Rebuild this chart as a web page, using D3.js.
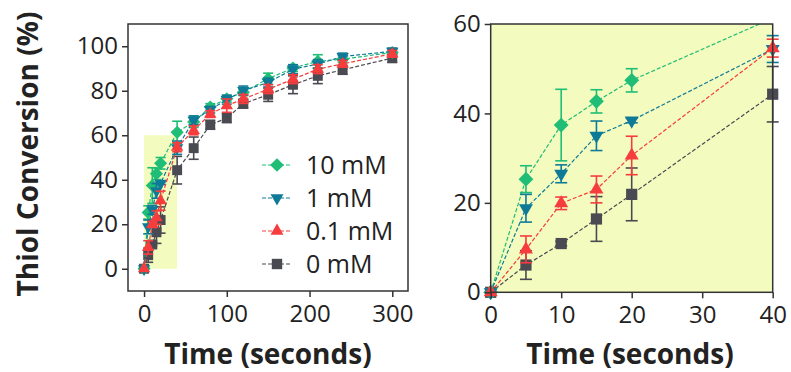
<!DOCTYPE html>
<html>
<head>
<meta charset="utf-8">
<script src="https://cdn.jsdelivr.net/npm/d3@7"></script>
<style>
  body { margin: 0; background: #fff; }
  svg text { font-family: "Open Sans", "DejaVu Sans", sans-serif; fill: #222; }
</style>
</head>
<body>
<svg id="chart" width="791" height="372"></svg>
<script>
// time points (seconds)
const times = [0, 5, 10, 15, 20, 40, 60, 80, 100, 120, 150, 180, 210, 240, 300];

// thiol conversion (%) and error for each concentration
const conv10 = [0, 25.3, 37.4, 42.7, 47.4, 61.3, 66, 72.7, 76.4, 79.3, 85.4, 90.2, 93.2, 94.2, 97.2];
const err10  = [0, 3, 8, 2.6, 2.6, 5, 2.5, 1.5, 1.5, 1.5, 2.5, 1.5, 3, 1.5, 1.5];
const conv1  = [0, 18.8, 26.5, 35, 38.4, 54.4, 66.7, 71.5, 76, 80.1, 83.7, 89.7, 92, 95.4, 97.7];
const err1   = [0, 3.1, 2, 3.3, 0.5, 3, 2, 1.5, 2, 2, 2, 2, 2, 1.5, 1.5];
const conv01 = [0, 9.6, 19.9, 23, 30.6, 54.6, 62.2, 69.5, 73.3, 76.3, 80.7, 85.2, 89.7, 92.1, 96.6];
const err01  = [0, 3, 1.4, 3, 4.3, 2, 2, 1.5, 3, 2, 2, 2, 2, 1.5, 1.5];
const conv0  = [0, 6.1, 10.9, 16.4, 21.9, 44.3, 54.2, 64.7, 67.7, 74.2, 78.2, 82.7, 86.7, 89.4, 94.7];
const err0   = [0, 3.2, 0.5, 5, 5.9, 6.2, 5, 2, 2, 2, 3, 4, 3.5, 2, 2];

const seriesNames = ["10 mM", "1 mM", "0.1 mM", "0 mM"];
const leftXTicks = [0, 100, 200, 300];
const leftYTicks = [0, 20, 40, 60, 80, 100];
const rightXTicks = [0, 10, 20, 30, 40];
const rightYTicks = [0, 20, 40, 60];

const series = [
  { name: seriesNames[3], vals: conv0,  errs: err0,  color: "#4a4a52", shape: d3.symbolSquare,   rot: 0, k: 0.9 },
  { name: seriesNames[0], vals: conv10, errs: err10, color: "#1fbd76", shape: d3.symbolDiamond2, rot: 0, k: 1 },
  { name: seriesNames[1], vals: conv1,  errs: err1,  color: "#0f7a98", shape: d3.symbolTriangle2, rot: 180, k: 1 },
  { name: seriesNames[2], vals: conv01, errs: err01, color: "#f63c3c", shape: d3.symbolTriangle2, rot: 0, k: 1 }
];

const svg = d3.select("#chart");
const shade = "#f3fcbe";

function drawPanel(opts) {
  const x = d3.scaleLinear().domain(opts.xDomain).range([opts.left, opts.right]);
  const y = d3.scaleLinear().domain(opts.yDomain).range([opts.bottom, opts.top]);
  const g = svg.append("g");
  const clipId = "clip" + opts.id;

  g.append("clipPath").attr("id", clipId)
    .append("rect")
    .attr("x", opts.left).attr("y", opts.top)
    .attr("width", opts.right - opts.left).attr("height", opts.bottom - opts.top);

  if (opts.fillAll) {
    g.append("rect")
      .attr("x", opts.left).attr("y", opts.top)
      .attr("width", opts.right - opts.left).attr("height", opts.bottom - opts.top)
      .attr("fill", shade);
  }
  if (opts.zoomBox) {
    const zb = opts.zoomBox;
    g.append("rect")
      .attr("x", x(zb[0])).attr("y", y(zb[3]))
      .attr("width", x(zb[1]) - x(zb[0])).attr("height", y(zb[2]) - y(zb[3]))
      .attr("fill", shade);
  }

  const idx = times.map((t, i) => i).filter(i => times[i] <= opts.xDomain[1]);
  // include the first point beyond the domain so lines run off the edge
  const lineIdx = times.map((t, i) => i).filter(i => i <= idx[idx.length - 1] + 1);

  series.forEach(s => {
    const line = d3.line().x(i => x(times[i])).y(i => y(s.vals[i]));
    g.append("path")
      .attr("clip-path", `url(#${clipId})`)
      .attr("d", line(lineIdx))
      .attr("fill", "none")
      .attr("stroke", s.color)
      .attr("stroke-width", 1.2)
      .attr("stroke-dasharray", "4,2");

    const visible = idx.filter(i => s.vals[i] <= opts.yDomain[1]);
    const eb = g.append("g").attr("stroke", s.color).attr("stroke-width", 1.6);
    visible.filter(i => s.errs[i] > 0).forEach(i => {
      const cx = x(times[i]);
      const top = Math.min(s.vals[i] + s.errs[i], opts.yDomain[1]);
      const bot = s.vals[i] - s.errs[i];
      eb.append("line").attr("x1", cx).attr("x2", cx).attr("y1", y(top)).attr("y2", y(bot));
      [s.vals[i] + s.errs[i], bot].forEach(v => {
        if (v > opts.yDomain[1]) return;
        eb.append("line").attr("x1", cx - opts.cap).attr("x2", cx + opts.cap).attr("y1", y(v)).attr("y2", y(v));
      });
    });

    g.selectAll(null).data(visible).enter().append("path")
      .attr("d", d3.symbol().type(s.shape).size(opts.msize * s.k))
      .attr("transform", i => `translate(${x(times[i])},${y(s.vals[i])}) rotate(${s.rot})`)
      .attr("fill", s.color);
  });

  // frame
  g.append("rect")
    .attr("x", opts.left).attr("y", opts.top)
    .attr("width", opts.right - opts.left).attr("height", opts.bottom - opts.top)
    .attr("fill", "none").attr("stroke", "#333").attr("stroke-width", 1.5);

  const xAxis = g.append("g")
    .attr("transform", `translate(0,${opts.bottom})`)
    .call(d3.axisBottom(x).tickValues(opts.xTicks).tickSize(6).tickPadding(8));
  const yAxis = g.append("g")
    .attr("transform", `translate(${opts.left},0)`)
    .call(d3.axisLeft(y).tickValues(opts.yTicks).tickSize(6).tickPadding(4));
  [xAxis, yAxis].forEach(a => {
    a.select(".domain").remove();
    a.selectAll(".tick line").attr("stroke", "#333").attr("stroke-width", 1.5);
    a.selectAll(".tick text")
      .attr("fill", "#222")
      .style("font-size", "24px")
      .style("font-family", "'Open Sans', sans-serif");
  });

  g.append("text")
    .attr("x", opts.xLabelX).attr("y", 364)
    .attr("text-anchor", "middle")
    .style("font-size", "28px").style("font-weight", "bold")
    .text("Time (seconds)");

  return { x, y };
}

drawPanel({
  id: "L", left: 128, right: 408, top: 24, bottom: 291,
  xDomain: [-19.4, 319], yDomain: [-10, 110],
  xTicks: leftXTicks, yTicks: leftYTicks,
  zoomBox: [0, 40, 0, 60], msize: 110, cap: 5, xLabelX: 268
});

drawPanel({
  id: "R", left: 490.7, right: 772.7, top: 24, bottom: 292.3,
  xDomain: [0, 40], yDomain: [0, 60],
  xTicks: rightXTicks, yTicks: rightYTicks,
  fillAll: true, msize: 140, cap: 6, xLabelX: 630
});

// y-axis title
svg.append("text")
  .attr("transform", "translate(38,154) rotate(-90)")
  .attr("text-anchor", "middle")
  .style("font-size", "28px").style("font-weight", "bold")
  .text("Thiol Conversion (%)");

// legend
const legendOrder = [1, 2, 3, 0];
const legend = svg.append("g");
legendOrder.forEach((si, k) => {
  const s = series[si];
  const ly = 165 + k * 33;
  legend.append("line")
    .attr("x1", 262).attr("x2", 292).attr("y1", ly).attr("y2", ly)
    .attr("stroke", s.color).attr("stroke-width", 1.2).attr("stroke-dasharray", "4,2");
  legend.append("path")
    .attr("d", d3.symbol().type(s.shape).size(120 * s.k))
    .attr("transform", `translate(277,${ly}) rotate(${s.rot})`)
    .attr("fill", s.color);
  legend.append("text")
    .attr("x", 306).attr("y", ly)
    .attr("dy", "0.35em")
    .style("font-size", "25px")
    .text(s.name);
});
</script>
</body>
</html>
